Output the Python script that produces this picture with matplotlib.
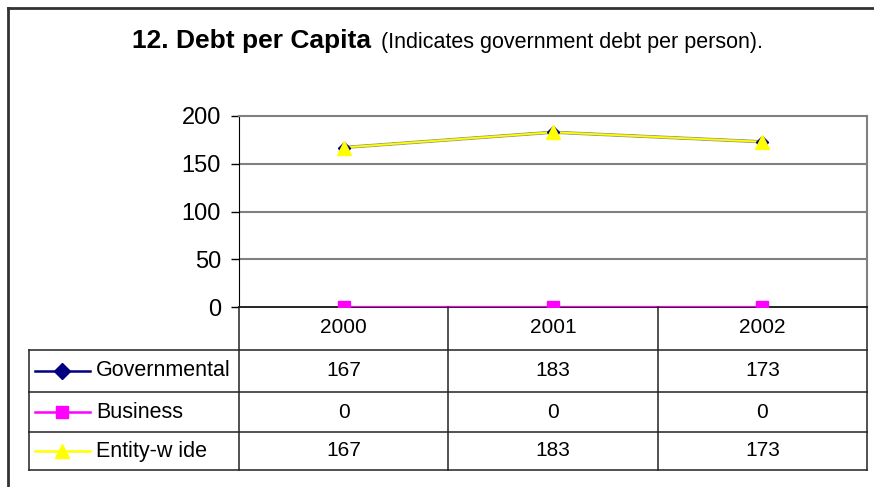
import matplotlib.pyplot as plt
from matplotlib.lines import Line2D

plt.rcParams["font.family"] = ["Liberation Sans", "DejaVu Sans"]

# Debt per capita by fund type
years = ["2000", "2001", "2002"]
governmental = [167, 183, 173]
business = [0, 0, 0]
entity_wide = [167, 183, 173]

series = [
    ("Governmental", governmental, "#000080", "D"),
    ("Business", business, "#FF00FF", "s"),
    ("Entity-wide", entity_wide, "#FFFF00", "^"),
]
plot_ms = {"D": 6.5, "s": 8.5, "^": 10}
key_ms = {"D": 8, "s": 9, "^": 10.5}

W, H = 874, 487
fig = plt.figure(figsize=(W / 100, H / 100), dpi=100)


def fx(px):
    return px / W


def fy(py):
    return 1 - py / H


# plot area bounds in pixels
L, R, T, B = 239, 867, 116, 307
ax = fig.add_axes([fx(L), fy(B), fx(R - L), (B - T) / H])

xs = [i + 0.5 for i in range(len(years))]
for name, vals, color, marker in series:
    if name == "Entity-wide":
        # yellow line with a soft dark edge
        ax.plot(xs, vals, color="#a0a070", lw=2.4, zorder=3.05)
        ax.plot(xs, vals, color=color, lw=1.3, zorder=3.1)
    else:
        ax.plot(xs, vals, color=color, lw=1.6, zorder=3)
    ax.plot(xs, vals, ls="none", marker=marker, ms=plot_ms[marker], color=color,
            markeredgecolor=color, zorder=4 if name != "Entity-wide" else 4.1)

ax.set_xlim(0, len(years))
ax.set_ylim(0, 200)
ax.set_yticks([0, 50, 100, 150, 200])
ax.set_xticks([])
ax.tick_params(axis="y", length=6, width=1, labelsize=17, pad=7, colors="black")
for y in (50, 100, 150):
    ax.axhline(y, color="#808080", lw=1.5, zorder=1)
ax.spines["top"].set_color("#808080")
ax.spines["top"].set_linewidth(1.5)
ax.spines["right"].set_color("#808080")
ax.spines["right"].set_linewidth(1.5)
ax.spines["left"].set_color("black")
ax.spines["bottom"].set_color("black")
ax.spines["bottom"].set_linewidth(1.2)
ax.spines["bottom"].set_zorder(2.5)

# data table below the plot
col_edges = [L + (R - L) * i / len(years) for i in range(len(years) + 1)]
row_edges = [350, 392, 432, 470]
tab_left = 29
line_kw = dict(color="#222222", lw=1.1, transform=fig.transFigure)
for yy in row_edges:
    fig.add_artist(Line2D([fx(tab_left), fx(R)], [fy(yy), fy(yy)], **line_kw))
fig.add_artist(Line2D([fx(tab_left), fx(tab_left)], [fy(row_edges[0]), fy(row_edges[-1])], **line_kw))
for xx in col_edges:
    fig.add_artist(Line2D([fx(xx), fx(xx)], [fy(B), fy(row_edges[-1])], **line_kw))

for i, yr in enumerate(years):
    cx = (col_edges[i] + col_edges[i + 1]) / 2
    fig.text(fx(cx), fy(327.5), yr, ha="center", va="center", fontsize=15)

for r, (name, vals, color, marker) in enumerate(series):
    cy = (row_edges[r] + row_edges[r + 1]) / 2
    fig.add_artist(Line2D([fx(35), fx(90)], [fy(cy), fy(cy)], color=color, lw=1.8,
                          transform=fig.transFigure))
    fig.add_artist(Line2D([fx(62)], [fy(cy)], color=color, marker=marker,
                          ms=key_ms[marker], markeredgecolor=color,
                          transform=fig.transFigure))
    fig.text(fx(96), fy(cy), name if name != "Entity-wide" else "Entity-w ide",
             ha="left", va="center", fontsize=15.5)
    for i, v in enumerate(vals):
        cx = (col_edges[i] + col_edges[i + 1]) / 2
        fig.text(fx(cx), fy(cy), f"{v}", ha="center", va="center", fontsize=15)

# title
fig.text(fx(132), fy(48), "12. Debt per Capita", ha="left", va="baseline",
         fontsize=19, fontweight="bold")
fig.text(fx(381), fy(48), "(Indicates government debt per person).", ha="left",
         va="baseline", fontsize=15.5)

# outer frame
frame_kw = dict(color="#333333", lw=2, transform=fig.transFigure)
fig.add_artist(Line2D([fx(7.5), fx(W)], [fy(7.5), fy(7.5)], **frame_kw))
fig.add_artist(Line2D([fx(7.5), fx(7.5)], [fy(7.5), fy(H)], **frame_kw))

fig.savefig("out.png", dpi=100, facecolor="white")
